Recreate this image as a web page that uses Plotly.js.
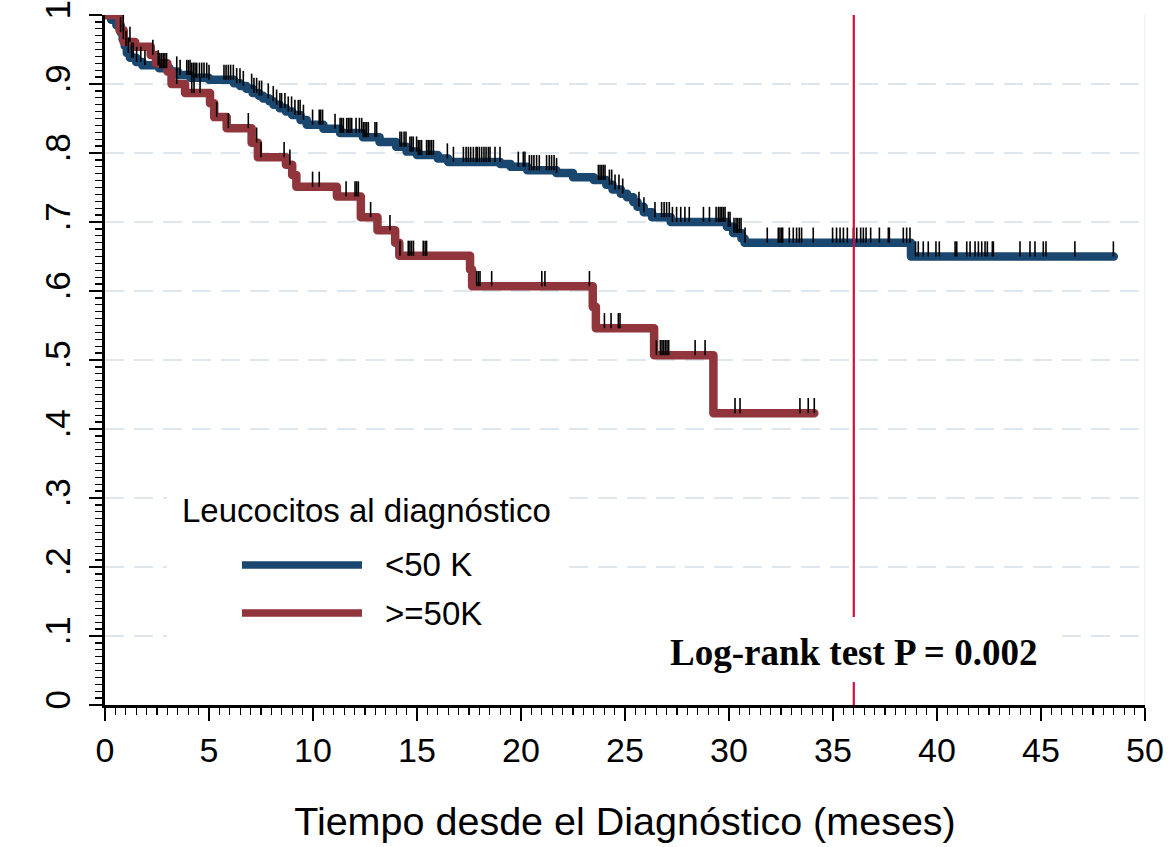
<!DOCTYPE html>
<html><head><meta charset="utf-8">
<script src="https://cdn.plot.ly/plotly-3.0.1.min.js"></script>
<style>
html,body{margin:0;padding:0;background:#fff;}
#chart{width:1173px;height:847px;}
.js-line{stroke-linejoin:round;stroke-linecap:round;}
</style></head><body><div id="chart"></div>
<script>
// Kaplan-Meier step data (time in months, survival proportion)
const blueTimes = [0, 0.3, 0.55, 0.75, 0.85, 0.95, 1.05, 1.2, 1.5, 1.8,
  2.6, 3.1, 3.5, 4.1, 5.0, 6.2, 6.5, 6.8, 7.1, 7.4,
  7.6, 7.9, 8.1, 8.4, 8.7, 9.0, 9.4, 9.7, 10.5, 11.3,
  12.4, 13.2, 14.0, 14.5, 15.0, 16.0, 16.5, 19.0, 19.5, 20.3,
  21.7, 22.5, 23.5, 24.1, 24.4, 24.8, 25.1, 25.4, 25.6, 25.9,
  26.3, 27.2, 29.9, 30.2, 30.6, 30.75, 38.75, 48.5];
const blueSurv = [1, 0.993, 0.985, 0.975, 0.965, 0.955, 0.945, 0.938, 0.932, 0.927,
  0.923, 0.918, 0.913, 0.909, 0.906, 0.901, 0.897, 0.893, 0.887, 0.883,
  0.879, 0.875, 0.870, 0.865, 0.860, 0.855, 0.848, 0.841, 0.835, 0.829,
  0.823, 0.816, 0.809, 0.802, 0.797, 0.792, 0.787, 0.784, 0.780, 0.775,
  0.771, 0.765, 0.761, 0.754, 0.747, 0.741, 0.736, 0.729, 0.722, 0.714,
  0.707, 0.700, 0.693, 0.684, 0.676, 0.670, 0.650, 0.650];

const redTimes = [0, 0.7, 0.9, 1.45, 2.2, 2.45, 3.0, 3.2, 3.85, 5.05,
  5.25, 5.85, 7.05, 7.35, 8.7, 9.0, 9.2, 11.15, 12.3, 13.1,
  13.95, 14.15, 17.55, 17.65, 23.45, 23.6, 26.4, 29.25, 34.1];
const redSurv = [1, 0.978, 0.961, 0.954, 0.942, 0.930, 0.918, 0.900, 0.887, 0.872,
  0.852, 0.836, 0.815, 0.794, 0.783, 0.768, 0.751, 0.737, 0.707, 0.688,
  0.670, 0.651, 0.631, 0.607, 0.577, 0.546, 0.507, 0.423, 0.423];

// Censoring times
const blueCensorTimes = [0.75, 0.88, 1.01, 1.12, 1.28, 1.36, 1.52, 1.72, 1.92, 2.56,
  2.64, 2.72, 2.8, 2.88, 2.96, 3.45, 3.61, 3.93, 4.01, 4.09,
  4.17, 4.25, 4.33, 4.41, 4.54, 4.65, 4.76, 4.89, 5.0, 5.72,
  5.82, 5.93, 6.04, 6.17, 6.33, 6.49, 6.65, 7.05, 7.16, 7.29,
  7.42, 7.53, 7.85, 8.09, 8.25, 8.41, 8.49, 8.65, 8.81, 8.97,
  9.13, 9.29, 9.38, 9.54, 9.98, 10.3, 10.37, 10.46, 11.06, 11.3,
  11.38, 11.46, 11.62, 11.7, 11.78, 11.86, 12.07, 12.23, 12.34, 12.42,
  12.5, 12.58, 12.66, 12.98, 13.06, 14.18, 14.26, 14.38, 14.47, 14.66,
  14.74, 14.82, 14.98, 15.06, 15.14, 15.22, 15.46, 15.54, 15.62, 15.7,
  15.79, 16.46, 16.75, 17.23, 17.36, 17.47, 17.58, 17.71, 17.84, 17.9,
  18.0, 18.11, 18.22, 18.32, 18.43, 18.51, 18.75, 18.99, 19.87, 20.11,
  20.19, 20.4, 20.51, 20.62, 20.75, 20.88, 21.23, 21.36, 21.47, 21.59,
  21.71, 23.72, 23.8, 23.88, 23.96, 24.04, 24.25, 24.36, 24.52, 24.71,
  24.89, 25.67, 25.91, 26.44, 26.76, 26.88, 27.0, 27.13, 27.28, 27.48,
  27.68, 27.88, 28.09, 28.77, 29.06, 29.38, 29.49, 29.57, 29.65, 29.73,
  29.81, 29.97, 30.05, 30.24, 30.34, 30.42, 30.5, 30.58, 30.77, 31.84,
  32.37, 32.45, 32.53, 32.58, 32.9, 33.09, 33.25, 33.38, 33.49, 34.05,
  34.98, 35.17, 35.34, 35.5, 35.69, 35.98, 36.14, 36.33, 36.46, 36.59,
  36.81, 37.23, 37.66, 37.71, 38.38, 38.54, 38.7, 38.97, 39.1, 39.34,
  39.58, 39.95, 40.11, 40.87, 40.95, 41.43, 41.59, 41.83, 41.99, 42.15,
  42.31, 42.42, 42.66, 42.71, 43.99, 44.47, 44.71, 45.11, 45.24, 46.63, 48.48];
const redCensorTimes = [0.88, 1.2, 2.3, 3.45, 4.17, 4.28, 4.57, 5.37, 5.93, 6.89,
  7.29, 7.5, 8.61, 8.89, 9.98, 10.3, 11.59, 12.02, 12.1, 12.18,
  12.77, 13.7, 14.18, 14.58, 14.66, 14.74, 14.83, 15.3, 15.39, 15.46,
  17.87, 17.95, 18.03, 18.59, 21.0, 21.15, 23.29, 24.01, 24.33, 24.68,
  24.76, 26.51, 26.7, 26.78, 26.86, 26.94, 27.02, 27.1, 28.37, 28.85,
  30.29, 30.53, 33.41, 33.81, 34.1];

const xTickVals = [0, 5, 10, 15, 20, 25, 30, 35, 40, 45, 50];
const yTickVals = [0, 0.1, 0.2, 0.3, 0.4, 0.5, 0.6, 0.7, 0.8, 0.9, 1];
const yTickText = ['0', '.1', '.2', '.3', '.4', '.5', '.6', '.7', '.8', '.9', '1'];
const seriesNames = ['<50 K', '>=50K'];
const legendTitle = 'Leucocitos al diagnóstico';
const xTitle = 'Tiempo desde el Diagnóstico (meses)';
const pValueText = 'Log-rank test P = 0.002';
const referenceMonth = 36;

const BLUE = '#1a476f', RED = '#90353b', CRIMSON = '#cc1040';
const SANS = 'Liberation Sans, Arial, sans-serif';

function survAt(times, surv, t) {
  let s = surv[0];
  for (let i = 0; i < times.length; i++) { if (times[i] <= t) s = surv[i]; else break; }
  return s;
}

function curve(times, surv, color, name) {
  return {x: times, y: surv, type: 'scatter', mode: 'lines', name: name,
    line: {shape: 'hv', color: color, width: 8.5}, cliponaxis: false, showlegend: false, hoverinfo: 'skip'};
}
function censors(ctimes, times, surv) {
  return {x: ctimes, y: ctimes.map(t => survAt(times, surv, t)), type: 'scatter', mode: 'markers',
    marker: {size: 1, color: 'rgba(0,0,0,0)'}, cliponaxis: false, showlegend: false, hoverinfo: 'skip',
    error_y: {type: 'constant', symmetric: false, value: 0.022, valueminus: 0, width: 0, thickness: 1.6, color: '#000'}};
}

const data = [
  curve(blueTimes, blueSurv, BLUE, seriesNames[0]),
  curve(redTimes, redSurv, RED, seriesNames[1]),
  censors(blueCensorTimes, blueTimes, blueSurv),
  censors(redCensorTimes, redTimes, redSurv)
];

const layout = {
  width: 1173, height: 847,
  margin: {l: 105, r: 28, t: 15, b: 142},
  paper_bgcolor: '#fff', plot_bgcolor: '#fff',
  font: {family: SANS, color: '#000'},
  showlegend: false,
  xaxis: {
    range: [0, 50], tickvals: xTickVals, ticks: 'outside', ticklen: 13, tickwidth: 2, tickcolor: '#000',
    minor: {dtick: 0.5, tick0: 0, ticks: 'outside', ticklen: 7, tickwidth: 1.3, tickcolor: '#000', showgrid: false},
    showline: true, linewidth: 3, linecolor: '#000', showgrid: false, zeroline: false,
    tickfont: {family: SANS, size: 34, color: '#000'}, ticklabeloverflow: 'allow',
    title: {text: xTitle, font: {family: SANS, size: 39.5, color: '#000'}, standoff: 40}
  },
  yaxis: {
    range: [0, 1], tickvals: yTickVals, ticktext: yTickText, tickangle: -90,
    ticks: 'outside', ticklen: 13, tickwidth: 2, tickcolor: '#000', ticklabelstandoff: 5,
    ticklabeloverflow: 'allow',
    minor: {dtick: 0.01, tick0: 0, ticks: 'outside', ticklen: 7, tickwidth: 1.3, tickcolor: '#000', showgrid: false},
    showline: true, linewidth: 3, linecolor: '#000', zeroline: false,
    showgrid: true, gridcolor: '#dfe7ee', gridwidth: 2, griddash: '19px,10px',
    tickfont: {family: SANS, size: 35, color: '#000'}
  },
  shapes: [
    {type: 'line', xref: 'x', yref: 'y', x0: 50, x1: 50, y0: 0, y1: 1, line: {color: '#e3eaf0', width: 1.5}, layer: 'below'},
    {type: 'line', xref: 'x', yref: 'y', x0: referenceMonth, x1: referenceMonth, y0: 0, y1: 1, line: {color: CRIMSON, width: 2.2}},
    {type: 'rect', xref: 'paper', yref: 'paper', x0: 0.0596, x1: 0.4413, y0: 0.087, y1: 0.329, fillcolor: '#fff', line: {width: 0}},
    {type: 'rect', xref: 'paper', yref: 'paper', x0: 0.4413, x1: 0.920, y0: 0.0333, y1: 0.1275, fillcolor: '#fff', line: {width: 0}},
    {type: 'line', xref: 'paper', yref: 'paper', x0: 0.1317, x1: 0.2471, y0: 0.2029, y1: 0.2029, line: {color: BLUE, width: 7.5}},
    {type: 'line', xref: 'paper', yref: 'paper', x0: 0.1317, x1: 0.2471, y0: 0.1333, y1: 0.1333, line: {color: RED, width: 7.5}}
  ],
  annotations: [
    {xref: 'paper', yref: 'paper', x: 0.0721, y: 0.2826, xanchor: 'left', yanchor: 'middle', showarrow: false,
      text: legendTitle, font: {family: SANS, size: 33, color: '#000'}},
    {xref: 'paper', yref: 'paper', x: 0.267, y: 0.2029, xanchor: 'left', yanchor: 'middle', showarrow: false,
      text: seriesNames[0], font: {family: SANS, size: 33, color: '#000'}},
    {xref: 'paper', yref: 'paper', x: 0.267, y: 0.1333, xanchor: 'left', yanchor: 'middle', showarrow: false,
      text: seriesNames[1], font: {family: SANS, size: 33, color: '#000'}},
    {xref: 'x', yref: 'paper', x: referenceMonth, y: 0.0754, xanchor: 'center', yanchor: 'middle', showarrow: false,
      text: '<b>' + pValueText + '</b>', font: {family: 'Liberation Serif, Times New Roman, serif', size: 37, color: '#000'}}
  ]
};

Plotly.newPlot('chart', data, layout, {displayModeBar: false, staticPlot: true});
</script></body></html>
